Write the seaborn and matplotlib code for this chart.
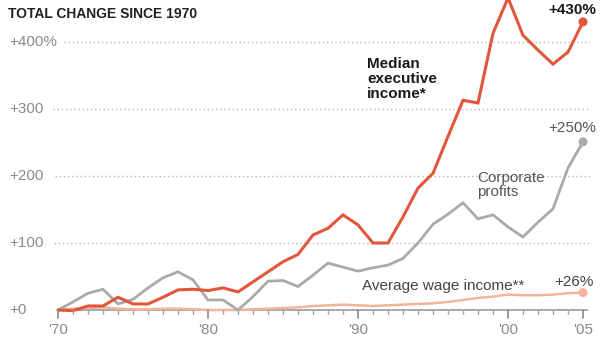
import matplotlib
matplotlib.use("Agg")
import matplotlib.pyplot as plt
import matplotlib.transforms as mtransforms
import numpy as np
import pandas as pd
import seaborn as sns

# ---- data -------------------------------------------------------------
years = list(range(1970, 2006))
executive = [0, -1, 6, 6, 19, 9, 9, 19, 30, 31, 29, 33, 27, 42, 57, 72, 83, 112,
             122, 142, 127, 100, 100, 139, 182, 204, 259, 313, 309, 413, 466,
             410, 388, 367, 385, 430]
profits = [0, 12, 25, 31, 9, 16, 33, 48, 57, 45, 15, 15, 0, 20, 43, 44, 35, 52,
           70, 64, 58, 63, 67, 77, 100, 128, 143, 160, 136, 142, 124, 109, 131,
           151, 212, 251]
wages = [0, 2, 3, 4, 2, 1, 1, 2, 2, 1, 0, 0, 0, 1, 2, 3, 4, 6, 7, 8, 7, 6, 7, 8,
         9, 10, 12, 15, 18, 20, 23, 22, 22, 23, 25, 26]
series_names = ["Median executive income*", "Corporate profits",
                "Average wage income**"]
end_labels = ["+430%", "+250%", "+26%"]
ytick_values = [0, 100, 200, 300, 400]
ytick_labels = ["+0", "+100", "+200", "+300", "+400%"]
xtick_values = [1970, 1980, 1990, 2000, 2005]
xtick_labels = ["'70", "'80", "'90", "'00", "'05"]
title = "TOTAL CHANGE SINCE 1970"

df = pd.DataFrame({
    "year": years * 3,
    "value": executive + profits + wages,
    "series": ([series_names[0]] * len(years) + [series_names[1]] * len(years)
               + [series_names[2]] * len(years)),
})

# ---- style ------------------------------------------------------------
sns.set_style("white")
plt.rcParams["font.family"] = ["Liberation Sans", "DejaVu Sans"]

RED = "#e2573b"
GRAY = "#aaaaaa"
SALMON = "#f5b39c"
palette = {series_names[0]: RED, series_names[1]: GRAY, series_names[2]: SALMON}

W, H = 607, 340
fig = plt.figure(figsize=(W / 100, H / 100), dpi=100)
ax = fig.add_axes([0, 0, 590 / W, 1])

px_per_year = 15.0
x0_px = 58.0
px_per_unit = 0.67
y0_px = 310.0
ax.set_xlim(1970 - x0_px / px_per_year, 1970 + (590 - x0_px) / px_per_year)
ax.set_ylim(-(H - y0_px) / px_per_unit, y0_px / px_per_unit)


def px2year(px):
    return 1970 + (px - x0_px) / px_per_year


def px2val(py):
    return (y0_px - py) / px_per_unit


# grid lines (dotted) starting after the labels
grid_start_px = {100: 54, 200: 55, 300: 53, 400: 64}
for v in ytick_values[1:]:
    ax.hlines(v, px2year(grid_start_px[v]), ax.get_xlim()[1], colors="#b5b5b5",
              linestyles=(0, (1, 2)), linewidth=1.0, zorder=1)

# lines
sns.lineplot(data=df, x="year", y="value", hue="series", palette=palette,
             hue_order=[series_names[2], series_names[1], series_names[0]],
             ax=ax, legend=False, linewidth=2.0, zorder=3)
for line in ax.lines:
    line.set_solid_joinstyle("miter")
    c = matplotlib.colors.to_hex(line.get_color())
    if c == RED:
        line.set_linewidth(2.2)
    elif c == SALMON:
        line.set_linewidth(1.8)

# end markers
end_df = df[df["year"] == years[-1]]
sns.scatterplot(data=end_df, x="year", y="value", hue="series", palette=palette,
                ax=ax, legend=False, s=42, edgecolor="none", zorder=4)

# axes styling: baseline + year ticks
for s in ["top", "right", "left", "bottom"]:
    ax.spines[s].set_visible(False)
ax.plot([years[0] - 0.1, years[-1] + 0.3], [0, 0], color="#999999",
        linewidth=1.2, zorder=2, solid_capstyle="butt")
minor_years = [y for y in years if y not in xtick_values]
tick_x = []
tick_y = []
for yr in minor_years:
    tick_x += [yr, yr, np.nan]
    tick_y += [0, -4 / px_per_unit, np.nan]
ax.plot(tick_x, tick_y, color="#a8a8a8", linewidth=1.0, zorder=5)
tick_x = []
tick_y = []
for yr in xtick_values:
    tick_x += [yr, yr, np.nan]
    tick_y += [0, -7.5 / px_per_unit, np.nan]
ax.plot(tick_x, tick_y, color="#8a8a8a", linewidth=1.2, zorder=5)
ax.set_yticks([])
ax.set_xticks([])
for xv, lab in zip(xtick_values, xtick_labels):
    ax.text(xv, px2val(330), lab, ha="center", va="center", fontsize=11,
            color="#8a8a8a")
ax.set_xlabel("")
ax.set_ylabel("")

# y labels
trans = mtransforms.blended_transform_factory(fig.transFigure, ax.transData)
for v, lab in zip(ytick_values, ytick_labels):
    ax.text(9 / W, v, lab, transform=trans, ha="left", va="center",
            fontsize=11, color="#8a8a8a")

# title
fig.text(8 / W, 1 - 14.5 / H, title, ha="left", va="center", fontsize=10,
         fontweight="bold", color="#222222")

# series annotations
ax.text(px2year(367), px2val(79), "Median\nexecutive\nincome*", ha="left",
        va="center", fontsize=11, fontweight="bold", color="#1a1a1a",
        linespacing=1.1)
ax.text(px2year(477), px2val(185), "Corporate\nprofits", ha="left",
        va="center", fontsize=11, color="#555555", linespacing=1.0)
ax.text(px2year(362), px2val(286), "Average wage income**", ha="left",
        va="center", fontsize=11, color="#444444")

# end labels
ax.text(px2year(596), px2val(10), end_labels[0], ha="right", va="center",
        fontsize=11, fontweight="bold", color="#1a1a1a", clip_on=False)
ax.text(px2year(596), px2val(128), end_labels[1], ha="right", va="center",
        fontsize=11, color="#555555", clip_on=False)
ax.text(px2year(594), px2val(282), end_labels[2], ha="right", va="center",
        fontsize=11, color="#444444", clip_on=False)

fig.savefig("out.png", dpi=100)
